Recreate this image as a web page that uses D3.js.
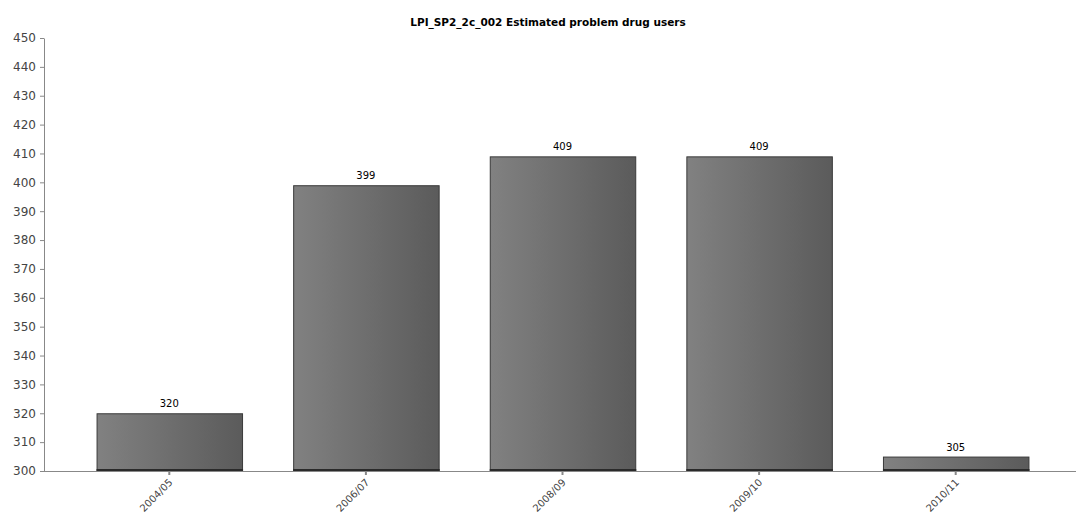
<!DOCTYPE html>
<html>
<head>
<meta charset="utf-8">
<script src="https://cdn.jsdelivr.net/npm/d3@7"></script>
<style>
  body { margin: 0; background: #fff; }
  svg { display: block; }
</style>
</head>
<body>
<div id="chart"></div>
<script>
const title = "LPI_SP2_2c_002 Estimated problem drug users";
const categories = ["2004/05", "2006/07", "2008/09", "2009/10", "2010/11"];
const values = [320, 399, 409, 409, 305];
const yTicks = [300, 310, 320, 330, 340, 350, 360, 370, 380, 390, 400, 410, 420, 430, 440, 450];

const width = 1076, height = 519;
const axisX = 44, plotTop = 38, plotBottom = 471;

const svg = d3.select("#chart").append("svg")
  .attr("width", width)
  .attr("height", height);

const grad = svg.append("defs").append("linearGradient")
  .attr("id", "barGrad")
  .attr("x1", "0%").attr("x2", "100%").attr("y1", "0%").attr("y2", "0%");
grad.append("stop").attr("offset", "0%").attr("stop-color", "#818181");
grad.append("stop").attr("offset", "100%").attr("stop-color", "#5b5b5b");

const x = d3.scaleBand()
  .domain(categories)
  .range([71, 1054])
  .paddingInner(0.26)
  .paddingOuter(0.13);

const y = d3.scaleLinear()
  .domain([300, 450])
  .range([plotBottom, plotTop]);

// title
svg.append("text")
  .attr("x", 548)
  .attr("y", 26)
  .attr("text-anchor", "middle")
  .attr("font-family", "DejaVu Sans, Verdana, sans-serif")
  .attr("font-size", "10.5px")
  .attr("font-weight", "bold")
  .attr("fill", "#000")
  .text(title);

// bars
svg.selectAll(".bar")
  .data(values)
  .join("rect")
  .attr("class", "bar")
  .attr("x", (d, i) => x(categories[i]) + 0.5)
  .attr("y", d => y(d) + 0.5)
  .attr("width", x.bandwidth())
  .attr("height", d => y(300) - y(d) - 1)
  .attr("fill", "url(#barGrad)")
  .attr("stroke", "#3a3a3a")
  .attr("stroke-width", 1);

svg.selectAll(".bar-base")
  .data(values)
  .join("line")
  .attr("class", "bar-base")
  .attr("x1", (d, i) => x(categories[i]))
  .attr("x2", (d, i) => x(categories[i]) + x.bandwidth() + 1)
  .attr("y1", y(300) - 1)
  .attr("y2", y(300) - 1)
  .attr("stroke", "#2a2a2a")
  .attr("stroke-width", 2);

// value labels
svg.selectAll(".val")
  .data(values)
  .join("text")
  .attr("class", "val")
  .attr("x", (d, i) => x(categories[i]) + x.bandwidth() / 2)
  .attr("y", d => y(d) - 6)
  .attr("text-anchor", "middle")
  .attr("font-family", "DejaVu Sans, Verdana, sans-serif")
  .attr("font-size", "10px")
  .attr("fill", "#000")
  .text(d => d);

// y axis
const yAxis = svg.append("g")
  .attr("transform", `translate(${axisX},0)`)
  .call(d3.axisLeft(y).tickValues(yTicks).tickSize(4).tickPadding(4).tickSizeOuter(0));
yAxis.select(".domain").attr("stroke", "#888");
yAxis.selectAll(".tick line").attr("stroke", "#888");
yAxis.selectAll("text")
  .attr("font-family", "DejaVu Sans, Verdana, sans-serif")
  .attr("font-size", "12px")
  .attr("fill", "#444");

// x axis
const xAxis = svg.append("g")
  .attr("transform", `translate(0,${plotBottom})`);
xAxis.append("line")
  .attr("x1", axisX).attr("x2", width)
  .attr("y1", 0.5).attr("y2", 0.5)
  .attr("stroke", "#888");
xAxis.selectAll(".xt")
  .data(categories)
  .join("line")
  .attr("class", "xt")
  .attr("x1", d => x(d) + x.bandwidth() / 2)
  .attr("x2", d => x(d) + x.bandwidth() / 2)
  .attr("y1", 1).attr("y2", 4)
  .attr("stroke", "#888")
  .attr("stroke-width", 2);
xAxis.selectAll(".xl")
  .data(categories)
  .join("text")
  .attr("class", "xl")
  .attr("transform", d => `translate(${x(d) + x.bandwidth() / 2 + 4},${12}) rotate(-45)`)
  .attr("text-anchor", "end")
  .attr("font-family", "DejaVu Sans, Verdana, sans-serif")
  .attr("font-size", "10px")
  .attr("fill", "#444")
  .text(d => d);
</script>
</body>
</html>
